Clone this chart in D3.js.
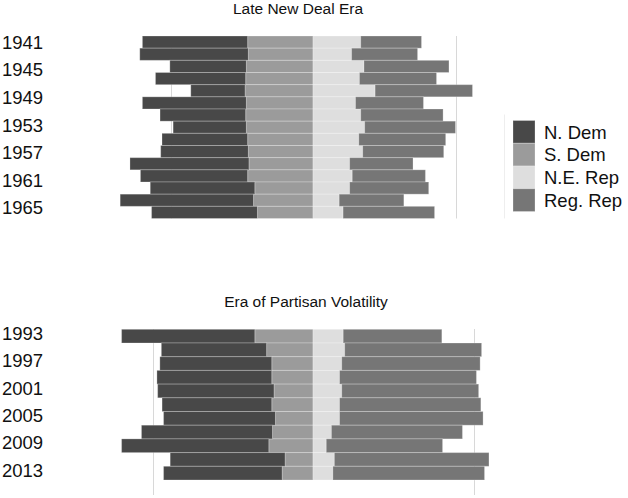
<!DOCTYPE html>
<html>
<head>
<meta charset="utf-8">
<script src="https://cdn.jsdelivr.net/npm/d3@7"></script>
<style>
  body { margin: 0; background: #fff; }
  text { font-family: "Liberation Sans", Arial, sans-serif; fill: #111; }
</style>
</head>
<body>
<div id="chart"></div>
<script>
// congress start years and seats per group
const years1 = [1939, 1941, 1943, 1945, 1947, 1949, 1951, 1953, 1955, 1957, 1959, 1961, 1963, 1965, 1967];
const nDem1 = [161, 166, 117, 138, 83, 159, 131, 112, 131, 134, 182, 164, 160, 204, 162];
const sDem1 = [100, 99, 102, 103, 104, 102, 103, 102, 100, 99, 98, 100, 89, 91, 85];
const neRep1 = [73, 59, 78, 71, 95, 65, 73, 79, 70, 76, 56, 60, 56, 40, 46];
const regRep1 = [93, 101, 130, 118, 149, 104, 126, 139, 133, 124, 97, 112, 121, 99, 140];
const ticks1 = [1941, 1945, 1949, 1953, 1957, 1961, 1965];

const years2 = [1993, 1995, 1997, 1999, 2001, 2003, 2005, 2007, 2009, 2011, 2013];
const nDem2 = [181, 143, 152, 156, 158, 149, 152, 178, 200, 156, 161];
const sDem2 = [79, 63, 56, 56, 53, 56, 51, 55, 60, 38, 42];
const neRep2 = [41, 43, 39, 36, 39, 36, 36, 25, 18, 29, 27];
const regRep2 = [134, 186, 188, 186, 186, 192, 195, 178, 158, 210, 206];
const ticks2 = [1993, 1997, 2001, 2005, 2009, 2013];

const groups = ["N. Dem", "S. Dem", "N.E. Rep", "Reg. Rep"];
const colors = ["#484848", "#9b9b9b", "#dedede", "#767676"];
const majority = 218;

const width = 628, height = 498;
const svg = d3.select("#chart").append("svg")
    .attr("width", width)
    .attr("height", height);

const color = d3.scaleOrdinal().domain(groups).range(colors);

function panel(opts) {
    const rows = opts.years.map((yr, i) => ({
        year: yr,
        "N. Dem": -opts.nDem[i],
        "S. Dem": -opts.sDem[i],
        "N.E. Rep": opts.neRep[i],
        "Reg. Rep": opts.regRep[i]
    }));

    // S. Dem sits next to the centre line, N. Dem further out
    const stacked = d3.stack()
        .keys(["S. Dem", "N. Dem", "N.E. Rep", "Reg. Rep"])
        .offset(d3.stackOffsetDiverging)(rows);

    const x = d3.scaleLinear().domain([-majority, majority]).range(opts.xRange);
    const y = d3.scaleBand().domain(opts.years).range(opts.yRange).padding(0);
    const yLab = d3.scaleLinear().domain(d3.extent(opts.ticks)).range(opts.labRange);

    const g = svg.append("g");

    // majority lines
    g.selectAll("line.grid")
        .data([-majority, majority])
        .enter().append("line")
        .attr("class", "grid")
        .attr("x1", d => Math.round(x(d)) + 0.5)
        .attr("x2", d => Math.round(x(d)) + 0.5)
        .attr("y1", opts.gridY[0])
        .attr("y2", opts.gridY[1])
        .attr("stroke", "#d8d8d8")
        .attr("stroke-width", 1);

    g.selectAll("g.layer")
        .data(stacked)
        .enter().append("g")
        .attr("class", "layer")
        .attr("fill", d => color(d.key))
        .selectAll("rect")
        .data(d => d)
        .enter().append("rect")
        .attr("x", d => x(d[0]))
        .attr("width", d => x(d[1]) - x(d[0]))
        .attr("y", d => y(d.data.year))
        .attr("height", y.bandwidth())
        .attr("stroke", "#fff")
        .attr("stroke-opacity", 0.25)
        .attr("stroke-width", 1);

    g.selectAll("text.year")
        .data(opts.ticks)
        .enter().append("text")
        .attr("class", "year")
        .attr("x", 2)
        .attr("y", d => yLab(d))
        .attr("dy", "0.36em")
        .style("font-size", "18.5px")
        .text(d => d);

    g.append("text")
        .attr("x", opts.titleX)
        .attr("y", opts.titleY)
        .attr("text-anchor", "middle")
        .style("font-size", "15.5px")
        .text(opts.title);
}

panel({
    title: "Late New Deal Era", titleX: 298, titleY: 14,
    years: years1, nDem: nDem1, sDem: sDem1, neRep: neRep1, regRep: regRep1,
    ticks: ticks1,
    xRange: [170.5, 455.5], yRange: [36, 218.5], labRange: [42.2, 207.8],
    gridY: [36, 218.5]
});

panel({
    title: "Era of Partisan Volatility", titleX: 306, titleY: 307,
    years: years2, nDem: nDem2, sDem: sDem2, neRep: neRep2, regRep: regRep2,
    ticks: ticks2,
    xRange: [152.5, 473.5], yRange: [329.3, 480], labRange: [333.3, 470],
    gridY: [329, 495]
});

// legend
const legend = svg.append("g").attr("transform", "translate(513,120.5)");
const sw = 22.75;

legend.append("line")
    .attr("x1", -8.5).attr("x2", -8.5)
    .attr("y1", -6).attr("y2", 98)
    .attr("stroke", "#eeeeee");

const item = legend.selectAll("g.item")
    .data(groups)
    .enter().append("g")
    .attr("class", "item")
    .attr("transform", (d, i) => `translate(0,${i * sw})`);

item.append("rect")
    .attr("width", 22)
    .attr("height", sw)
    .attr("fill", d => color(d))
    .attr("stroke", "#fff")
    .attr("stroke-opacity", 0.25);

item.append("text")
    .attr("x", 31)
    .attr("y", sw / 2)
    .attr("dy", "0.36em")
    .style("font-size", "18.5px")
    .text(d => d);
</script>
</body>
</html>
